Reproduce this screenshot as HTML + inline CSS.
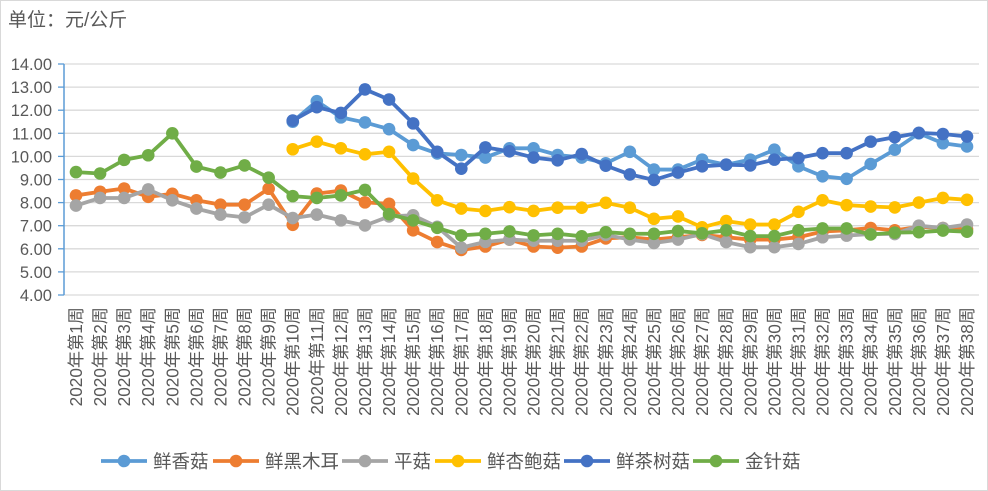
<!DOCTYPE html>
<html><head><meta charset="utf-8"><style>
body{margin:0;background:#fff;}
svg{display:block;font-family:"Liberation Sans","Noto Sans CJK SC",sans-serif;}
</style></head><body>
<svg id="chart" width="988" height="491" viewBox="0 0 988 491" xmlns="http://www.w3.org/2000/svg">
<rect x="0.5" y="0.5" width="987" height="490" fill="#fff" stroke="#d9d9d9"/>
<text x="8" y="26" font-size="19" fill="#595959">单位：元/公斤</text>
<g id="grid"></g><g id="axes"></g><g id="series"></g><g id="legend"></g>
</svg>
<script>
const weeks = Array.from({length:38},(_,i)=>'2020年第'+(i+1)+'周');
const yTicks = [4,5,6,7,8,9,10,11,12,13,14];
const seriesNames = ['鲜香菇','鲜黑木耳','平菇','鲜杏鲍菇','鲜茶树菇','金针菇'];
const seriesColors = ['#5b9bd5','#ed7d31','#a5a5a5','#ffc000','#4472c4','#70ad47'];
const N = null;
const xiangu = [N,N,N,N,N,N,N,N,N,11.5,12.39,11.69,11.47,11.18,10.49,10.13,10.06,9.95,10.35,10.35,10.06,9.95,9.7,10.2,9.43,9.43,9.86,9.64,9.86,10.29,9.57,9.14,9.03,9.67,10.29,11.0,10.57,10.43];
const muer = [8.31,8.47,8.61,8.25,8.38,8.1,7.91,7.91,8.6,7.04,8.39,8.52,8.01,7.95,6.8,6.29,5.95,6.1,6.4,6.1,6.05,6.1,6.45,6.5,6.4,6.5,6.6,6.5,6.4,6.4,6.5,6.75,6.8,6.9,6.8,6.95,6.9,6.85];
const pinggu = [7.87,8.2,8.2,8.57,8.1,7.74,7.48,7.36,7.91,7.33,7.48,7.23,7.01,7.4,7.45,6.95,6.05,6.3,6.4,6.35,6.35,6.35,6.6,6.4,6.25,6.4,6.64,6.29,6.07,6.07,6.21,6.5,6.57,6.64,6.64,7.0,6.9,7.05];
const xingbao = [N,N,N,N,N,N,N,N,N,10.31,10.64,10.35,10.09,10.2,9.04,8.1,7.74,7.64,7.8,7.64,7.78,7.78,7.99,7.78,7.3,7.4,6.93,7.2,7.05,7.05,7.6,8.1,7.89,7.83,7.79,8.0,8.2,8.12];
const chashu = [N,N,N,N,N,N,N,N,N,11.55,12.13,11.88,12.9,12.46,11.43,10.2,9.47,10.39,10.22,9.95,9.83,10.1,9.6,9.22,8.98,9.3,9.57,9.64,9.61,9.86,9.93,10.14,10.14,10.64,10.83,11.02,10.97,10.86];
const jinzhen = [9.32,9.26,9.85,10.05,11.0,9.56,9.3,9.61,9.08,8.28,8.2,8.31,8.55,7.5,7.23,6.91,6.58,6.65,6.75,6.58,6.65,6.54,6.72,6.65,6.65,6.77,6.67,6.8,6.55,6.55,6.8,6.88,6.88,6.62,6.7,6.72,6.79,6.74];
const allSeries = [xiangu,muer,pinggu,xingbao,chashu,jinzhen];

const NS='http://www.w3.org/2000/svg';
const X0=76, X1=967, Y0=295, Y1=64, YMIN=4, YMAX=14;
const xs = i => X0 + i*(X1-X0)/(weeks.length-1);
const ys = v => Y0 - (v-YMIN)*(Y0-Y1)/(YMAX-YMIN);
function mk(tag, attrs, parent){const e=document.createElementNS(NS,tag);for(const k in attrs)e.setAttribute(k,attrs[k]);parent.appendChild(e);return e;}
const grid=document.getElementById('grid'), axes=document.getElementById('axes'), ser=document.getElementById('series'), leg=document.getElementById('legend');

yTicks.forEach(t=>{
  const y=ys(t);
  const l=mk('line',{x1:64,x2:979,y1:y,y2:y,stroke:'#d9d9d9','stroke-width':1.3},grid);
  
  
  const tk=mk('line',{x1:58,x2:64,y1:y,y2:y,stroke:'#5b9bd5','stroke-width':1.3},axes);
  
  
  const tx=mk('text',{x:52,y:y+6,'text-anchor':'end','font-size':16.5,fill:'#595959'},axes);
  tx.textContent=t.toFixed(2);
  
  
});
const ax=mk('line',{x1:64,x2:64,y1:Y1,y2:Y0,stroke:'#5b9bd5','stroke-width':1.5},axes);



weeks.forEach((w,i)=>{
  const x=xs(i)+6;
  const t=mk('text',{x:x,y:307,'text-anchor':'end','font-size':17.2,fill:'#595959',transform:'rotate(-90 '+x+' 307)'},axes);
  t.textContent=w;
  
  
});

allSeries.forEach((data,si)=>{
  const g=mk('g',{},ser);
  
  
  let d='';
  data.forEach((v,i)=>{ if(v==null) return; d+=(d===''?'M':'L')+xs(i)+' '+ys(v)+' '; });
  const p=mk('path',{d:d,fill:'none',stroke:seriesColors[si],'stroke-width':3.8,'stroke-linejoin':'round'},g);
  
  
  data.forEach((v,i)=>{ if(v==null) return;
    const c=mk('circle',{cx:xs(i),cy:ys(v),r:6.3,fill:seriesColors[si]},g);
    
    
  });
});

const legX=[101,213,342,435,564,693];
seriesNames.forEach((n,i)=>{
  const g=mk('g',{},leg);
  
  
  const x=legX[i];
  mk('line',{x1:x,x2:x+46,y1:461,y2:461,stroke:seriesColors[i],'stroke-width':3.8},g);
  mk('circle',{cx:x+23,cy:461,r:6.3,fill:seriesColors[i]},g);
  const t=mk('text',{x:x+52,y:468,'font-size':18.5,fill:'#595959'},g);
  t.textContent=n;
});
</script>
</body></html>
